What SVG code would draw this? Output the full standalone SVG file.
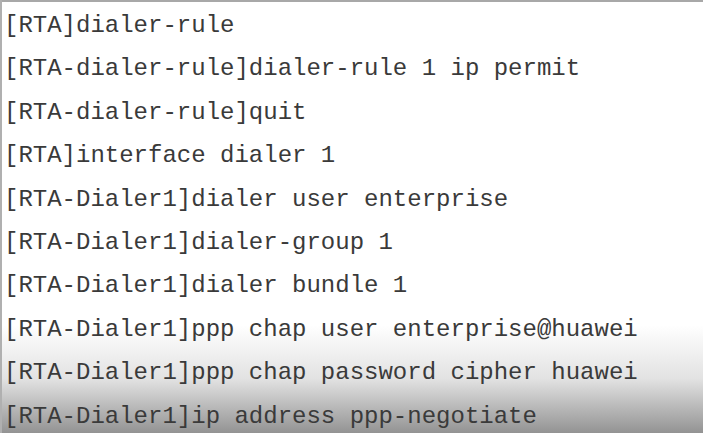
<svg xmlns="http://www.w3.org/2000/svg" width="703" height="433" viewBox="0 0 703 433">
<defs>
<linearGradient id="fade" x1="0" y1="325" x2="0" y2="433" gradientUnits="userSpaceOnUse">
<stop offset="0" stop-color="#ffffff"/>
<stop offset="0.5" stop-color="#e2e2e2"/>
<stop offset="1" stop-color="#939393"/>
</linearGradient>
</defs>
<style>
.t{font-family:"Liberation Mono","Courier New",monospace;font-size:24px;fill:#3a3a3a;}
</style>
<rect x="0" y="0" width="703" height="433" fill="#ffffff"/>
<rect x="0" y="325" width="703" height="108" fill="url(#fade)"/>
<rect x="0" y="0" width="703" height="2" fill="#a8a8a8"/>
<rect x="0" y="0" width="2" height="433" fill="#b0b0b0"/>
<g id="lines">
<text class="t" x="4" y="32">[RTA]dialer-rule</text>
<text class="t" x="4" y="75.4">[RTA-dialer-rule]dialer-rule 1 ip permit</text>
<text class="t" x="4" y="118.8">[RTA-dialer-rule]quit</text>
<text class="t" x="4" y="162.2">[RTA]interface dialer 1</text>
<text class="t" x="4" y="205.6">[RTA-Dialer1]dialer user enterprise</text>
<text class="t" x="4" y="249">[RTA-Dialer1]dialer-group 1</text>
<text class="t" x="4" y="292.4">[RTA-Dialer1]dialer bundle 1</text>
<text class="t" x="4" y="335.8">[RTA-Dialer1]ppp chap user enterprise@huawei</text>
<text class="t" x="4" y="379.2">[RTA-Dialer1]ppp chap password cipher huawei</text>
<text class="t" x="4" y="422.6">[RTA-Dialer1]ip address ppp-negotiate</text>
</g>
</svg>
